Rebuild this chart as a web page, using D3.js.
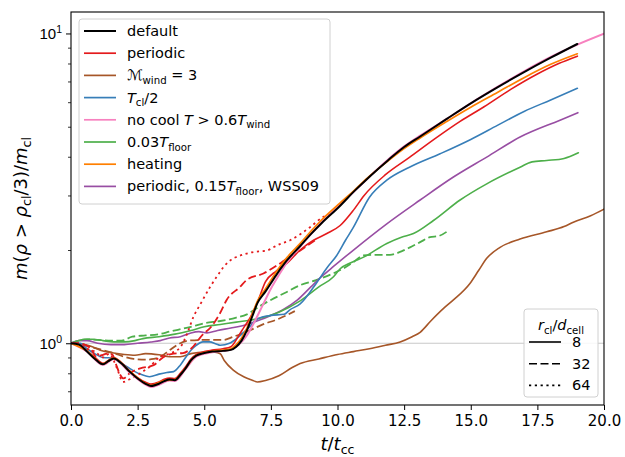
<!DOCTYPE html>
<html>
<head>
<meta charset="utf-8">
<script src="https://cdn.jsdelivr.net/npm/d3@7"></script>
<style>
  html, body { margin: 0; padding: 0; background: #fff; }
  svg { display: block; font-family: "DejaVu Sans", sans-serif; }
</style>
</head>
<body>
<svg id="chart" width="625" height="457"></svg>
<script>
// Time axis values (t / t_cc) and mass ratios m(rho > rho_cl/3)/m_cl per run.
const defaultT = [0,0.3,0.6,0.9,1.2,1.4,1.6,1.9,2.2,2.5,2.8,3.0,3.3,3.5,3.7,3.9,4.1,4.3,4.5,4.7,5.0,5.3,5.7,6.0,6.2,6.4,6.6,6.8,7.0,7.3,7.7,8.1,8.6,9.0,9.4,10.1,10.6,11.2,11.9,12.5,13.1,14.1,15,16,17,18,19];
const defaultV = [1.0,0.99,0.94,0.89,0.855,0.875,0.893,0.86,0.81,0.77,0.74,0.728,0.74,0.755,0.764,0.76,0.79,0.83,0.88,0.912,0.93,0.94,0.945,0.952,0.975,1.02,1.10,1.22,1.35,1.47,1.66,1.85,2.06,2.25,2.44,2.78,3.08,3.45,3.9,4.3,4.65,5.3,5.95,6.7,7.5,8.35,9.25];

const periodicT = [0,0.3,0.6,0.9,1.2,1.4,1.6,1.9,2.2,2.5,2.8,3.0,3.3,3.5,3.7,3.9,4.1,4.3,4.5,4.7,5.0,5.3,5.7,6.0,6.3,6.5,6.7,7.0,7.3,7.7,8.1,8.6,9.1,9.6,10.1,10.6,11.0,11.8,12.7,13.7,14.6,15.5,16.5,17.5,18.3,19];
const periodicV = [1.0,0.99,0.945,0.9,0.862,0.88,0.9,0.865,0.815,0.775,0.748,0.738,0.75,0.765,0.772,0.77,0.8,0.84,0.89,0.92,0.94,0.95,0.96,0.975,1.06,1.13,1.2,1.36,1.58,1.71,1.81,2.0,2.15,2.26,2.4,2.69,3.0,3.5,3.98,4.6,5.2,5.8,6.6,7.4,8.0,8.45];

const periodic32T = [0,0.2,0.7,0.95,1.15,1.35,1.55,1.7,1.85,1.97,2.2,2.6,3.1,3.45,3.85,4.2,4.5,4.96,5.22,5.59,5.84,6.34,6.59,7.22,7.84,8.0,8.59,9.16];
const periodic32V = [1.0,1.0,0.97,0.905,0.915,0.926,0.92,0.85,0.79,0.77,0.8,0.83,0.85,0.9,0.926,0.93,0.96,1.07,1.12,1.25,1.38,1.52,1.6,1.68,1.81,1.85,1.99,2.15];

const periodic64T = [0,0.2,0.6,0.9,1.2,1.45,1.6,1.75,1.95,2.2,2.6,2.95,3.3,3.7,4.1,4.35,4.6,4.84,5.22,5.47,5.72,6.09,6.22,6.84,7.34,7.59,7.84,8.22,8.97,9.47,9.84];
const periodic64V = [1.0,1.0,0.96,0.94,0.9,0.926,0.88,0.82,0.75,0.765,0.8,0.84,0.9,0.926,0.97,1.07,1.22,1.33,1.52,1.64,1.76,1.88,1.9,1.97,1.99,2.04,2.09,2.15,2.37,2.56,2.62];

const mwindT = [0,0.5,0.8,1.1,1.6,2.0,2.4,2.8,3.3,3.7,4.1,4.5,5.0,5.4,5.6,5.75,6.1,6.5,6.8,7.0,7.3,7.8,8.3,8.6,9.3,10.0,10.6,11.2,11.8,12.35,12.8,13.1,13.5,14.0,14.35,14.97,15.3,15.6,16.1,16.85,17.85,18.5,18.85,19.5,20];
const mwindV = [1.0,0.99,0.975,0.95,0.93,0.92,0.915,0.926,0.918,0.905,0.905,0.926,0.937,0.935,0.925,0.88,0.818,0.778,0.76,0.75,0.758,0.785,0.835,0.86,0.89,0.92,0.94,0.96,0.985,1.01,1.05,1.085,1.18,1.3,1.38,1.56,1.72,1.88,2.04,2.17,2.29,2.38,2.46,2.58,2.71];

const mwind32T = [0,0.3,0.7,1.1,1.6,2.0,2.35,2.8,3.1,3.4,3.7,4.0,4.4,5.0,5.7,6.1,6.6,7.2,7.8,8.4];
const mwind32V = [1.0,1.0,0.975,0.955,0.93,0.905,0.89,0.885,0.89,0.91,0.95,0.99,1.02,1.025,1.025,1.05,1.09,1.15,1.2,1.27];

const halfTclT = [0,0.35,0.6,0.85,1.2,1.6,1.8,2.1,2.4,2.6,2.95,3.3,3.6,3.85,4.1,4.3,4.5,4.7,4.95,5.2,5.45,5.6,5.95,6.3,6.7,7.0,7.5,8.0,8.2,8.6,9.2,9.6,9.97,10.3,10.6,11.2,11.85,12.7,13.85,15,16,17,18,19];
const halfTclV = [1.0,1.0,0.96,0.93,0.9,0.895,0.87,0.84,0.81,0.795,0.78,0.795,0.805,0.81,0.85,0.9,0.95,0.985,1.01,1.01,0.995,0.985,1.0,1.05,1.13,1.2,1.23,1.24,1.28,1.34,1.56,1.75,1.92,2.15,2.37,2.96,3.36,3.7,4.09,4.55,5.05,5.6,6.1,6.65];

const noCoolT = [0,0.6,1.2,1.6,2.2,2.8,3.0,3.3,3.7,3.9,4.3,4.7,5.3,6.0,6.3,6.6,6.9,7.2,7.5,7.8,8.1,8.6,9.0,9.4,10.1,10.6,11.2,11.9,12.5,13.1,14.1,15,16,17,18,19,20];
const noCoolV = [1.0,0.94,0.852,0.89,0.805,0.735,0.722,0.735,0.758,0.755,0.825,0.905,0.935,0.955,0.99,1.06,1.18,1.33,1.5,1.66,1.82,2.05,2.25,2.45,2.8,3.08,3.45,3.92,4.32,4.68,5.3,5.95,6.72,7.55,8.4,9.2,9.98];

const floorT = [0,0.3,0.5,0.8,1.2,1.6,2.0,2.4,2.7,3.3,3.9,4.5,5.0,5.6,6.2,7.0,7.8,8.6,9.3,9.85,10.1,10.5,11.0,11.85,12.4,12.85,13.6,14.6,15.6,16.85,17.3,17.85,18.5,19.04];
const floorV = [1.0,1.02,1.03,1.03,1.02,1.01,1.01,1.02,1.035,1.05,1.07,1.1,1.13,1.15,1.17,1.2,1.26,1.37,1.52,1.64,1.74,1.82,1.9,2.1,2.2,2.26,2.49,2.9,3.27,3.7,3.85,3.89,3.95,4.12];

const floor32T = [0,0.3,0.6,1.0,1.5,1.9,2.3,2.8,3.3,3.7,4.5,5.0,5.6,6.2,6.6,7.1,7.5,8.0,8.6,9.2,9.84,10.2,10.6,10.97,11.5,11.97,12.4,12.72,13.1,13.47,13.8,14.16];
const floor32V = [1.0,1.02,1.03,1.025,1.02,1.02,1.05,1.06,1.07,1.09,1.13,1.16,1.18,1.21,1.24,1.32,1.38,1.45,1.54,1.6,1.68,1.74,1.83,1.92,1.93,1.93,1.98,2.04,2.12,2.2,2.22,2.31];

const heatingT = [0,0.6,1.2,1.6,2.2,2.8,3.0,3.5,3.9,4.3,4.7,5.3,5.7,6.0,6.2,6.4,6.6,6.8,7.0,7.3,7.7,8.1,8.6,9.0,9.4,10.1,10.6,11.2,11.9,12.5,13.1,14.1,15,16,17,18,19];
const heatingV = [1.0,0.945,0.858,0.895,0.812,0.742,0.73,0.758,0.763,0.832,0.914,0.942,0.95,0.96,0.99,1.04,1.12,1.24,1.37,1.5,1.7,1.89,2.1,2.3,2.5,2.84,3.1,3.46,3.88,4.25,4.6,5.2,5.78,6.45,7.2,7.95,8.6];

const wssT = [0,0.3,0.6,1.0,1.5,2.0,2.5,3.0,3.35,3.7,4.1,4.5,4.8,5.1,5.5,6.0,6.6,7.1,7.5,8.0,8.5,9.0,9.4,9.85,10.6,11.85,13.1,14.35,15.6,16.85,18.35,19.02];
const wssV = [1.0,1.02,1.02,1.0,0.99,0.99,1.0,1.01,1.02,1.04,1.05,1.08,1.09,1.08,1.1,1.12,1.15,1.19,1.23,1.29,1.38,1.52,1.64,1.77,2.0,2.43,2.9,3.44,3.99,4.63,5.25,5.55];

// Axis ticks
const xTicks = [0, 2.5, 5, 7.5, 10, 12.5, 15, 17.5, 20];
const yMajor = [1, 10];
const yMinor = [0.7, 0.8, 0.9, 2, 3, 4, 5, 6, 7, 8, 9];

// Legend entries
const runLabels = ["default", "periodic", "Mwind", "Tcl/2", "nocool", "floor", "heating", "wss"];
const resLabels = ["8", "32", "64"];

const colors = {
  default: "#000000", periodic: "#e41a1c", mwind: "#a65628", half: "#377eb8",
  nocool: "#f781bf", floor: "#4daf4a", heating: "#ff7f00", wss: "#984ea3"
};
const dashes = { solid: null, dashed: "8,3.5", dotted: "2.2,3.6" };

const svg = d3.select("#chart");
const L = 71, R = 604, T = 12, B = 405;
const x = d3.scaleLinear().domain([0, 20]).range([L, R]);
const y = d3.scaleLog().domain([0.632, 11.73]).range([B, T]);

// reference line at unity
svg.append("line")
  .attr("x1", L).attr("x2", R).attr("y1", y(1)).attr("y2", y(1))
  .attr("stroke", "#c8c8c8").attr("stroke-width", 1.1);

svg.append("clipPath").attr("id", "plotclip")
  .append("rect").attr("x", L).attr("y", T).attr("width", R - L).attr("height", B - T);

const series = [
  { t: mwind32T, v: mwind32V, c: colors.mwind, d: dashes.dashed, w: 1.8 },
  { t: floor32T, v: floor32V, c: colors.floor, d: dashes.dashed, w: 1.8 },
  { t: wssT, v: wssV, c: colors.wss, d: null, w: 1.6 },
  { t: floorT, v: floorV, c: colors.floor, d: null, w: 1.6 },
  { t: mwindT, v: mwindV, c: colors.mwind, d: null, w: 1.6 },
  { t: halfTclT, v: halfTclV, c: colors.half, d: null, w: 1.6 },
  { t: periodic64T, v: periodic64V, c: colors.periodic, d: dashes.dotted, w: 1.8 },
  { t: periodic32T, v: periodic32V, c: colors.periodic, d: dashes.dashed, w: 1.8 },
  { t: periodicT, v: periodicV, c: colors.periodic, d: null, w: 1.6 },
  { t: noCoolT, v: noCoolV, c: colors.nocool, d: null, w: 2.0 },
  { t: heatingT, v: heatingV, c: colors.heating, d: null, w: 1.7 },
  { t: defaultT, v: defaultV, c: colors.default, d: null, w: 2.0 }
];

const line = d3.line().x(d => x(d[0])).y(d => y(d[1])).curve(d3.curveMonotoneX);
const gLines = svg.append("g").attr("clip-path", "url(#plotclip)");
series.forEach(s => {
  gLines.append("path")
    .datum(d3.zip(s.t, s.v))
    .attr("d", line)
    .attr("fill", "none")
    .attr("stroke", s.c)
    .attr("stroke-width", s.w)
    .attr("stroke-dasharray", s.d)
    .attr("stroke-linejoin", "round")
    .attr("stroke-linecap", s.d ? "butt" : "round");
});

// X axis
const xAxis = svg.append("g").attr("transform", `translate(0,${B})`)
  .call(d3.axisBottom(x).tickValues(xTicks).tickFormat(d3.format(".1f")).tickSize(5).tickSizeOuter(0).tickPadding(5));
xAxis.select(".domain").remove();
xAxis.selectAll("text").attr("font-size", 15).attr("font-family", "DejaVu Sans").attr("fill", "#000");
xAxis.selectAll("line").attr("stroke", "#000").attr("stroke-width", 1);

// Y axis: minor ticks, then major ticks with power-of-ten labels
const yMinorAxis = svg.append("g").attr("transform", `translate(${L},0)`)
  .call(d3.axisLeft(y).tickValues(yMinor).tickFormat("").tickSize(3).tickSizeOuter(0));
yMinorAxis.select(".domain").remove();
yMinorAxis.selectAll("line").attr("stroke", "#000").attr("stroke-width", 0.8);

const yAxis = svg.append("g").attr("transform", `translate(${L},0)`)
  .call(d3.axisLeft(y).tickValues(yMajor).tickFormat("").tickSize(5).tickSizeOuter(0));
yAxis.select(".domain").remove();
yAxis.selectAll("line").attr("stroke", "#000").attr("stroke-width", 1);
yAxis.selectAll(".tick").each(function (d) {
  const t = d3.select(this).append("text")
    .attr("x", -9).attr("y", 5.5).attr("text-anchor", "end")
    .attr("font-size", 15).attr("fill", "#000");
  t.append("tspan").text("10");
  t.append("tspan").attr("dy", -6).attr("font-size", 10.5).text(String(Math.round(Math.log10(d))));
});

// frame
svg.append("rect").attr("x", L).attr("y", T).attr("width", R - L).attr("height", B - T)
  .attr("fill", "none").attr("stroke", "#000").attr("stroke-width", 1.1);

// axis titles
const xl = svg.append("text").attr("x", (L + R) / 2).attr("y", 450)
  .attr("text-anchor", "middle").attr("font-size", 18);
xl.append("tspan").attr("font-style", "italic").text("t");
xl.append("tspan").text("/");
xl.append("tspan").attr("font-style", "italic").text("t");
xl.append("tspan").attr("dy", 4).attr("font-size", 12.6).text("cc");

const yl = svg.append("text")
  .attr("transform", `translate(27,${(T + B) / 2}) rotate(-90)`)
  .attr("text-anchor", "middle").attr("font-size", 18);
yl.append("tspan").attr("font-style", "italic").text("m");
yl.append("tspan").text("(");
yl.append("tspan").attr("font-style", "italic").text("ρ");
yl.append("tspan").text(" > ");
yl.append("tspan").attr("font-style", "italic").text("ρ");
yl.append("tspan").attr("dy", 4).attr("font-size", 12.6).text("cl");
yl.append("tspan").attr("dy", -4).text("/3)/");
yl.append("tspan").attr("font-style", "italic").text("m");
yl.append("tspan").attr("dy", 4).attr("font-size", 12.6).text("cl");

// run legend
const legFont = 14.5, subFont = 10.2;
const leg = svg.append("g");
leg.append("rect").attr("x", 79).attr("y", 19).attr("width", 251).attr("height", 185)
  .attr("rx", 3).attr("fill", "#fff").attr("fill-opacity", 0.85)
  .attr("stroke", "#d0d0d0").attr("stroke-width", 1);

const legendColors = [colors.default, colors.periodic, colors.mwind, colors.half, colors.nocool, colors.floor, colors.heating, colors.wss];
function writeLabel(txt, key) {
  const sub = s => txt.append("tspan").attr("dy", 3.5).attr("font-size", subFont).text(s);
  const up = s => txt.append("tspan").attr("dy", -3.5).text(s);
  const it = s => txt.append("tspan").attr("font-style", "italic").text(s);
  const n = s => txt.append("tspan").text(s);
  switch (key) {
    case "Mwind": it("ℳ"); sub("wind"); up(" = 3"); break;
    case "Tcl/2": it("T"); sub("cl"); up("/2"); break;
    case "nocool": n("no cool "); it("T"); n(" > 0.6"); it("T"); sub("wind"); break;
    case "floor": n("0.03"); it("T"); sub("floor"); break;
    case "wss": n("periodic, 0.15"); it("T"); sub("floor"); up(", WSS09"); break;
    default: n(key);
  }
}
runLabels.forEach((lab, i) => {
  const cy = 31 + i * 22.2;
  leg.append("line").attr("x1", 84).attr("x2", 116).attr("y1", cy).attr("y2", cy)
    .attr("stroke", legendColors[i]).attr("stroke-width", i === 0 ? 2 : 1.7);
  const txt = leg.append("text").attr("x", 127).attr("y", cy + 5)
    .attr("font-size", legFont).attr("fill", "#000");
  writeLabel(txt, lab);
});

// resolution legend
const leg2 = svg.append("g");
leg2.append("rect").attr("x", 524).attr("y", 309).attr("width", 74).attr("height", 88)
  .attr("rx", 3).attr("fill", "#fff").attr("fill-opacity", 0.85)
  .attr("stroke", "#d0d0d0").attr("stroke-width", 1);
const ttl = leg2.append("text").attr("x", 561).attr("y", 330).attr("text-anchor", "middle")
  .attr("font-size", legFont);
ttl.append("tspan").attr("font-style", "italic").text("r");
ttl.append("tspan").attr("dy", 3.5).attr("font-size", subFont).text("cl");
ttl.append("tspan").attr("dy", -3.5).text("/");
ttl.append("tspan").attr("font-style", "italic").text("d");
ttl.append("tspan").attr("dy", 3.5).attr("font-size", subFont).text("cell");
const resDash = [null, dashes.dashed, dashes.dotted];
resLabels.forEach((lab, i) => {
  const cy = 342 + i * 21.7;
  leg2.append("line").attr("x1", 529).attr("x2", 561).attr("y1", cy).attr("y2", cy)
    .attr("stroke", "#000").attr("stroke-width", 1.6).attr("stroke-dasharray", resDash[i]);
  leg2.append("text").attr("x", 572).attr("y", cy + 5).attr("font-size", legFont).text(lab);
});
</script>
</body>
</html>
